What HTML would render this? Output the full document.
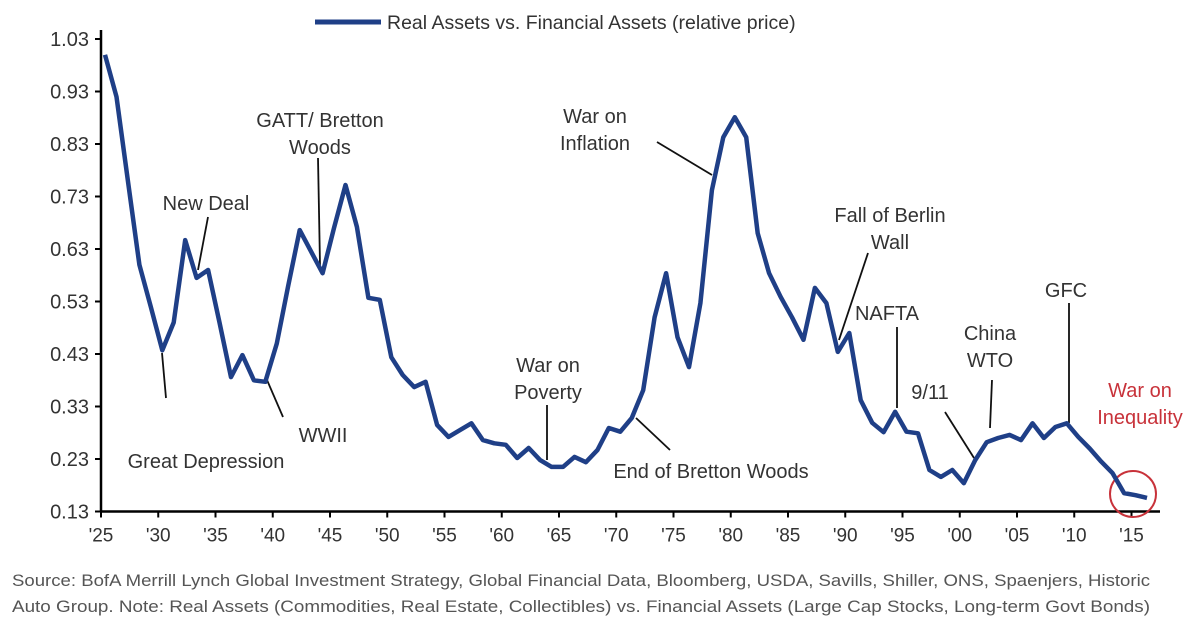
<!DOCTYPE html>
<html><head><meta charset="utf-8"><style>
html,body{margin:0;padding:0;background:#fff;}
svg{display:block;font-family:"Liberation Sans",Arial,sans-serif;}
</style></head><body>
<svg id="chart" width="1200" height="626" viewBox="0 0 1200 626">
<g id="axes"></g>
<g id="ann"></g>
<path id="series" fill="none" stroke="#1f3f87" stroke-width="4.5" stroke-linejoin="round"/>
<g>
<line x1="315" y1="22" x2="381" y2="22" stroke="#1f3f87" stroke-width="5"/>
<text x="387" y="29" font-size="19.5" fill="#333">Real Assets vs. Financial Assets (relative price)</text>
</g>
<g font-size="17" fill="#555">
<text x="12" y="586" textLength="1138" lengthAdjust="spacingAndGlyphs">Source:  BofA Merrill Lynch Global Investment Strategy, Global Financial Data, Bloomberg, USDA, Savills, Shiller, ONS, Spaenjers, Historic</text>
<text x="12" y="612" textLength="1138" lengthAdjust="spacingAndGlyphs">Auto Group. Note:  Real Assets (Commodities, Real Estate, Collectibles) vs. Financial Assets (Large Cap Stocks, Long-term Govt Bonds)</text>
</g>
</svg>
<script>
const startYear = 1925;
const values = [1.00,0.92,0.76,0.60,0.52,0.437,0.49,0.647,0.575,0.59,0.49,0.386,0.428,0.38,0.377,0.45,0.56,0.666,0.625,0.584,0.67,0.752,0.672,0.537,0.533,0.424,0.39,0.367,0.377,0.295,0.272,0.285,0.298,0.266,0.26,0.257,0.232,0.251,0.228,0.215,0.215,0.234,0.224,0.247,0.289,0.282,0.308,0.361,0.50,0.584,0.462,0.405,0.527,0.742,0.843,0.881,0.843,0.66,0.584,0.539,0.50,0.457,0.556,0.527,0.434,0.47,0.342,0.299,0.281,0.32,0.282,0.279,0.209,0.196,0.209,0.184,0.228,0.262,0.27,0.276,0.266,0.298,0.27,0.291,0.298,0.272,0.25,0.225,0.203,0.165,0.161,0.156];
const yTicks = [1.03,0.93,0.83,0.73,0.63,0.53,0.43,0.33,0.23,0.13];
const xTickYears = [1925,1930,1935,1940,1945,1950,1955,1960,1965,1970,1975,1980,1985,1990,1995,2000,2005,2010,2015];
const xTickLabels = ["'25","'30","'35","'40","'45","'50","'55","'60","'65","'70","'75","'80","'85","'90","'95","'00","'05","'10","'15"];

const NS='http://www.w3.org/2000/svg';
const X0=101, PXY=11.45, Y0=39, PXV=525;
function xAxisPos(yr){return X0+(yr-1925)*PXY;}
function xData(yr){return X0+(yr-1925+0.35)*PXY;}
function yPos(v){return Y0+(1.03-v)*PXV;}
function mk(tag,attrs,parent){const e=document.createElementNS(NS,tag);for(const k in attrs)e.setAttribute(k,attrs[k]);parent.appendChild(e);return e;}

const axes=document.getElementById('axes');
const yAxis=mk('line',{x1:X0,y1:30,x2:X0,y2:yPos(0.13),stroke:'#000','stroke-width':2.5},axes);


const xAxis=mk('line',{x1:X0,y1:yPos(0.13),x2:1160,y2:yPos(0.13),stroke:'#000','stroke-width':2.5},axes);


yTicks.forEach(v=>{
  const y=yPos(v);
  mk('line',{x1:X0-6,y1:y,x2:X0,y2:y,stroke:'#000','stroke-width':2},axes);
  const t=mk('text',{x:X0-12,y:y+7,'text-anchor':'end','font-size':20,fill:'#333'},axes);
  t.textContent=v.toFixed(2);
  
  
});
xTickYears.forEach((yr,i)=>{
  const x=xAxisPos(yr), y=yPos(0.13);
  mk('line',{x1:x,y1:y,x2:x,y2:y+6,stroke:'#000','stroke-width':2},axes);
  const t=mk('text',{x:x,y:y+30,'text-anchor':'middle','font-size':19,fill:'#333'},axes);
  t.textContent=xTickLabels[i];
  
  
});
document.getElementById('series').setAttribute('d',values.map((v,i)=>(i?'L':'M')+xData(startYear+i).toFixed(1)+','+yPos(v).toFixed(1)).join(''));

const ann=document.getElementById('ann');
const notes=[
 {n:'great-depression',lines:['Great Depression'],x:206,y:468,l:[162,353,166,398]},
 {n:'new-deal',lines:['New Deal'],x:206,y:210,l:[208,217,198,270]},
 {n:'gatt-bretton-woods',lines:['GATT/ Bretton','Woods'],x:320,y:127,l:[318,158,320,265]},
 {n:'wwii',lines:['WWII'],x:323,y:442,l:[267,380,283,417]},
 {n:'war-on-poverty',lines:['War on','Poverty'],x:548,y:372,l:[547,405,547,460]},
 {n:'end-of-bretton-woods',lines:['End of Bretton Woods'],x:711,y:478,l:[636,418,670,450]},
 {n:'war-on-inflation',lines:['War on','Inflation'],x:595,y:123,l:[657,142,712,175]},
 {n:'fall-of-berlin-wall',lines:['Fall of Berlin','Wall'],x:890,y:222,l:[868,253,839,340]},
 {n:'nafta',lines:['NAFTA'],x:887,y:320,l:[897,327,897,408]},
 {n:'9-11',lines:['9/11'],x:930,y:399,l:[945,412,974,458]},
 {n:'china-wto',lines:['China','WTO'],x:990,y:340,l:[992,380,990,428]},
 {n:'gfc',lines:['GFC'],x:1066,y:297,l:[1069,303,1069,423]},
 {n:'war-on-inequality',lines:['War on','Inequality'],x:1140,y:397,red:true}
];
notes.forEach(a=>{
  const g=mk('g',{},ann);
  
  
  const t=mk('text',{x:a.x,y:a.y,'text-anchor':'middle','font-size':20,fill:a.red?'#c8323a':'#333'},g);
  a.lines.forEach((s,i)=>{const sp=mk('tspan',{x:a.x,dy:i?27:0},t);sp.textContent=s;});
  if(a.l) mk('line',{x1:a.l[0],y1:a.l[1],x2:a.l[2],y2:a.l[3],stroke:'#111','stroke-width':1.8},g);
});
const c=mk('circle',{cx:1133,cy:494,r:23,fill:'none',stroke:'#c8323a','stroke-width':2},ann);


</script>
</body></html>
